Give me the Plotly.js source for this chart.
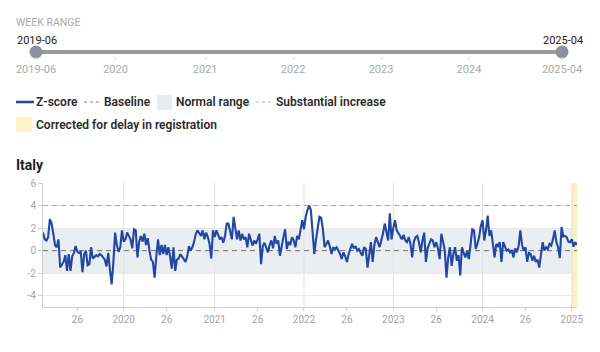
<!DOCTYPE html>
<html>
<head>
<meta charset="utf-8">
<script src="https://cdn.plot.ly/plotly-3.0.1.min.js"></script>
<style>
html,body{margin:0;padding:0;background:#fff;}
#chart{width:600px;height:352px;}
</style>
</head>
<body>
<div id="chart"></div>
<script>
// ---------------- DATA ----------------
const country = "Italy";
const startWeek2019 = 6;
const z2019 = [1.6, 1.0, 0.9, 1.2, 2.8, 2.4, 1.5, 0.5, 0.3, 1.0, -1.5, -1.3, -1.0, -0.4, -1.8, -0.3, -1.8, -0.5, -0.2, 0.4, -0.1, -0.2, -0.1, -1.9, -0.3, 0.0, -1.3, -1.2, 0.3, -0.7, -0.5, -0.4, -0.5, -0.3, -0.4, -0.6, -0.8, -1.4, -0.2, -1.7, -3.0, -1.0, 1.6, 0.5, -0.1, 0.3, 1.8];
const z2020 = [0.8, 1.0, 1.6, 1.3, 1.0, 0.2, 1.9, 1.8, -0.6, 0.8, 1.3, 0.8, 1.5, 0.5, 1.1, 0.0, -0.8, -1.0, -2.4, -0.5, 1.0, -0.4, 0.5, -0.3, 0.5, -0.4, 0.3, -0.5, -1.6, 0.3, -1.8, -0.8, -0.7, -0.3, -0.5, -0.8, -1.0, -0.5, 0.4, 0.0, 0.3, 0.8, 1.5, 1.8, 1.5, 1.3, 1.8, 1.0, 1.6, 1.2, 0.6, -0.7, 1.8];
const z2021 = [1.2, 1.8, 1.4, 1.0, 1.2, 0.7, 1.3, 2.4, 2.4, 1.6, 1.0, 3.0, 1.8, 1.0, 1.8, 0.9, 1.5, 1.0, 1.2, 0.3, 1.5, 1.0, 0.45, 0.9, 0.6, 1.0, 1.5, -1.2, 0.4, 0.7, 0.3, -0.15, 0.5, 0.9, 0.2, 1.3, 0.6, 0.9, -0.45, 0.5, 1.2, 1.9, 0.15, 0.8, 0.5, 1.2, 0.9, 0.3, 1.3, 1.0, 1.8, 2.7];
const z2022 = [1.9, 3.0, 3.6, 4.0, 3.6, 1.5, -0.3, 1.0, 1.9, 3.0, 2.9, 1.9, 0.3, 0.6, 0.9, 0.4, -0.3, 0.3, 0.15, 0.3, 0.0, -0.3, -0.75, -0.15, -0.5, -1.0, -0.3, 0.2, 0.6, 0.2, 0.4, 0.0, 0.15, -0.2, -0.45, 0.3, 0.15, -1.5, -0.2, 0.75, -1.0, 0.5, 1.2, 0.8, 0.3, 0.9, 1.5, 2.4, 1.6, 0.9, 3.3, 1.0];
const z2023 = [2.0, 2.7, 1.8, 1.6, 1.3, 1.0, 1.4, 0.9, 0.75, 1.2, 0.6, -0.6, 0.8, 1.2, 1.3, 0.7, -0.15, 0.9, 1.6, -1.0, 0.2, 0.6, 1.0, 0.9, 0.3, 0.75, 0.2, -0.75, 1.5, 0.8, 0.0, -2.4, -0.6, 0.3, -1.35, -0.3, 0.3, -0.9, -0.4, -2.2, 0.3, -0.2, -0.6, 0.0, -0.75, 0.5, 1.9, 1.8, 0.15, 0.6, 1.2, 2.2];
const z2024 = [2.7, 0.9, 1.8, 3.1, 1.3, 1.8, 0.6, -0.6, 0.6, 0.4, 0.75, -1.0, 0.75, 0.3, 0.0, 0.1, -0.15, 0.05, -0.6, 0.2, -0.15, 0.4, 1.8, 0.5, 0.0, 0.3, -1.0, -0.2, -0.3, -0.9, -0.45, -1.0, -0.8, -1.5, -0.4, 0.75, 0.0, 0.3, 0.15, 0.6, 0.45, 1.0, 1.8, 0.75, 0.3, -0.65, 2.1, 1.25, 1.3, 1.2, 0.8, 0.75];
const z2025 = [1.0, 0.35, 0.75, 0.5];

const years = [2019, 2020, 2021, 2022, 2023, 2024, 2025];
const yearSeries = [z2019, z2020, z2021, z2022, z2023, z2024, z2025];

const baselineValue = 0;
const normalRange = [-2, 2];
const substantialIncrease = 4;

const correctedWeeks = ["2025-W01", "2025-W02", "2025-W03", "2025-W04"];

const tickWeeks  = ["2019-W26","2020-W01","2020-W26","2021-W01","2021-W26","2022-W01","2022-W26","2023-W01","2023-W26","2024-W01","2024-W26","2025-W01"];
const tickLabels = ["26","2020","26","2021","26","2022","26","2023","26","2024","26","2025"];
const gridWeeks  = ["2020-W01","2021-W01","2022-W01","2023-W01","2024-W01","2025-W01"];

const sliderTickWeeks  = ["2019-W06","2020-W01","2021-W01","2022-W01","2023-W01","2024-W01","2025-W04"];
const sliderTickLabels = ["2019-06","2020","2021","2022","2023","2024","2025-04"];
const sliderStartLabel = "2019-06";
const sliderEndLabel = "2025-04";

const legendLabels = ["Z-score", "Baseline", "Normal range", "Substantial increase", "Corrected for delay in registration"];

// ---------------- BUILD ----------------
const pad = n => (n < 10 ? "0" + n : "" + n);
const weeks = [];
const zscore = [];
yearSeries.forEach((arr, k) => {
  const first = k === 0 ? startWeek2019 : 1;
  arr.forEach((v, j) => {
    weeks.push(years[k] + "-W" + pad(first + j));
    zscore.push(v);
  });
});
const N = weeks.length;
const idx = w => weeks.indexOf(w);
const ends = [weeks[0], weeks[N - 1]];

// layout helpers (pixel -> paper) with margins l=16 r=16 t=0 b=0
const W = 600, H = 352, ML = 16, MR = 16;
const PW = W - ML - MR;
const px = x => (x - ML) / PW;
const py = y => 1 - y / H;

const BLUE = "#2446a3";
const FONT = "Roboto, 'Open Sans', sans-serif";
const GREY_TXT = "#a3a3a3";

const traces = [
  {
    type: "scatter", mode: "lines",
    x: ends, y: [substantialIncrease, substantialIncrease],
    line: {color: "#e28a8a", width: 1, dash: "5px,4px"},
    hoverinfo: "skip", showlegend: false
  },
  {
    type: "scatter", mode: "lines",
    x: ends, y: [baselineValue, baselineValue],
    line: {color: "#707070", width: 1, dash: "5px,4px"},
    hoverinfo: "skip", showlegend: false
  },
  {
    type: "scatter", mode: "lines",
    x: weeks, y: zscore,
    line: {color: BLUE, width: 2.1},
    xaxis: "x", yaxis: "y",
    hoverinfo: "skip", showlegend: false
  },
  {
    type: "scatter", mode: "lines+markers",
    x: ends, y: [0, 0],
    line: {color: "#9b9b9b", width: 4},
    marker: {size: 13, color: "#8d919d"},
    cliponaxis: false,
    xaxis: "x2", yaxis: "y2",
    hoverinfo: "skip", showlegend: false
  }
];

const shapes = [
  // normal range band
  {type: "rect", xref: "x domain", yref: "y", x0: 0, x1: 1, y0: normalRange[0], y1: normalRange[1],
   fillcolor: "#e9eef3", line: {width: 0}, layer: "below"},
  // corrected for delay
  {type: "rect", xref: "x", yref: "y domain", x0: idx(correctedWeeks[0]), x1: idx(correctedWeeks[correctedWeeks.length - 1]),
   y0: 0, y1: 1, fillcolor: "#fcf0c0", line: {width: 0}, layer: "below"}
];
gridWeeks.forEach(w => {
  shapes.push({type: "line", xref: "x", yref: "y domain", x0: idx(w), x1: idx(w), y0: 0, y1: 1,
    line: {color: "#e0e0e0", width: 1}, layer: "below"});
});

// legend (drawn)
const LY1 = 102, LY2 = 125;
shapes.push({type: "line", xref: "paper", yref: "paper", x0: px(16), x1: px(34), y0: py(LY1), y1: py(LY1), line: {color: BLUE, width: 2.5}});
shapes.push({type: "line", xref: "paper", yref: "paper", x0: px(84), x1: px(100), y0: py(LY1), y1: py(LY1), line: {color: "#8a8a8a", width: 1, dash: "dot"}});
shapes.push({type: "rect", xref: "paper", yref: "paper", x0: px(157), x1: px(172), y0: py(110), y1: py(95), fillcolor: "#e6ebf0", line: {width: 0}});
shapes.push({type: "line", xref: "paper", yref: "paper", x0: px(256), x1: px(272), y0: py(LY1), y1: py(LY1), line: {color: "#e59c9c", width: 1, dash: "dot"}});
shapes.push({type: "rect", xref: "paper", yref: "paper", x0: px(16), x1: px(32), y0: py(132), y1: py(117), fillcolor: "#fcf2c6", line: {width: 0}});

const legFont = {family: FONT, size: 12, color: "#2a2a2a", weight: 600};
const ann = (text, x, y, font, xanchor) => ({text, x: px(x), y: py(y), xref: "paper", yref: "paper",
  xanchor: xanchor || "left", yanchor: "middle", showarrow: false, font, borderpad: 0});
const annotations = [
  ann("WEEK RANGE", 15, 22, {family: FONT, size: 10.5, color: "#a8a8a8"}),
  ann(sliderStartLabel, 37, 40, {family: FONT, size: 11, color: "#222"}, "center"),
  ann(sliderEndLabel, 563, 40, {family: FONT, size: 11, color: "#222"}, "center"),
  ann(legendLabels[0], 35, LY1, legFont),
  ann(legendLabels[1], 103, LY1, legFont),
  ann(legendLabels[2], 175, LY1, legFont),
  ann(legendLabels[3], 275, LY1, legFont),
  ann(legendLabels[4], 35, LY2, legFont),
  ann("<b>" + country + "</b>", 15, 165, {family: FONT, size: 14, color: "#1e1e1e"})
];

const layout = {
  width: W, height: H,
  margin: {l: ML, r: MR, t: 0, b: 0},
  paper_bgcolor: "#fff", plot_bgcolor: "rgba(0,0,0,0)",
  showlegend: false,
  font: {family: FONT, size: 10, color: GREY_TXT},
  xaxis: {
    type: "category", categoryorder: "array", categoryarray: weeks,
    domain: [px(43), px(577)], anchor: "y",
    range: [0, N - 1], autorange: false,
    tickmode: "array", tickvals: tickWeeks, ticktext: tickLabels,
    showgrid: false, zeroline: false,
    showline: true, linecolor: "#d0d0d0", linewidth: 1,
    ticks: "outside", ticklen: 3, tickcolor: "#d0d0d0",
    tickfont: {family: FONT, size: 10, color: GREY_TXT}, tickangle: 0
  },
  yaxis: {
    domain: [py(307), py(183)], anchor: "x",
    range: [-5, 6], autorange: false,
    tickmode: "array", tickvals: [-4, -2, 0, 2, 4, 6], ticktext: ["-4", "-2", "0", "2", "4", "6"],
    showgrid: true, gridcolor: "#e9e9e9", zeroline: false,
    showline: true, linecolor: "#d0d0d0", linewidth: 1,
    ticks: "outside", ticklen: 4, tickcolor: "#d0d0d0",
    tickfont: {family: FONT, size: 10, color: GREY_TXT}
  },
  xaxis2: {
    type: "category", categoryorder: "array", categoryarray: weeks,
    domain: [px(36), px(562)], anchor: "y2",
    range: [0, N - 1], autorange: false,
    tickmode: "array", tickvals: sliderTickWeeks, ticktext: sliderTickLabels,
    showgrid: false, zeroline: false, showline: false,
    ticks: "outside", ticklen: 3, tickcolor: "#d8d8d8",
    tickfont: {family: FONT, size: 11, color: "#aaaaaa"}, tickangle: 0
  },
  yaxis2: {
    domain: [py(56), py(48)], anchor: "x2",
    range: [-1, 1], autorange: false,
    visible: false, fixedrange: true
  },
  shapes, annotations
};

Plotly.newPlot("chart", traces, layout, {staticPlot: true, displayModeBar: false});
</script>
</body>
</html>
